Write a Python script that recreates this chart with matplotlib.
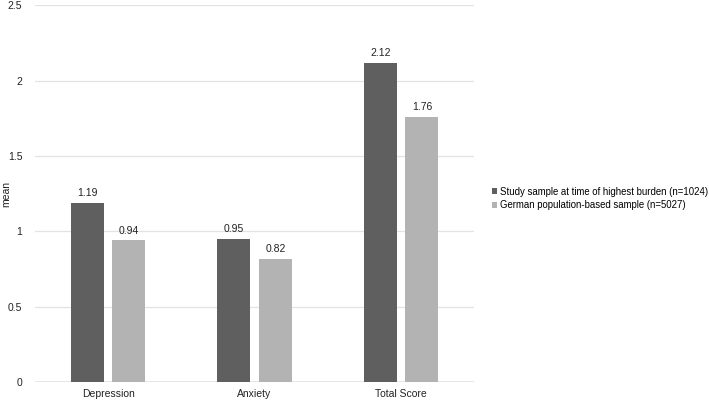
import matplotlib.pyplot as plt
import numpy as np

plt.rcParams["font.family"] = ["Liberation Sans", "DejaVu Sans"]

categories = ["Depression", "Anxiety", "Total Score"]
study = [1.19, 0.95, 2.12]
german = [0.94, 0.82, 1.76]
labels = ["Study sample at time of highest burden (n=1024)",
          "German population-based sample (n=5027)"]

fig = plt.figure(figsize=(7.09, 4.01), dpi=100)
ax = fig.add_axes([0.049, 0.047, 0.62, 0.94])

x = np.arange(len(categories))
w = 0.225
b1 = ax.bar(x - 0.142, study, w, color="#5f5f5f", label=labels[0], zorder=3)
b2 = ax.bar(x + 0.142, german, w, color="#b3b3b3", label=labels[1], zorder=3)

for bars, vals in ((b1, study), (b2, german)):
    for r, v in zip(bars, vals):
        ax.text(r.get_x() + r.get_width() / 2, v + 0.03, f"{v:.2f}",
                ha="center", va="bottom", fontsize=7.5, color="#222222")

ax.set_xlim(-0.5, 2.5)
ax.set_ylim(0, 2.5)
ax.set_yticks([0, 0.5, 1, 1.5, 2, 2.5])
ax.set_yticklabels(["0", "0.5", "1", "1.5", "2", "2.5"])
ax.set_xticks(x)
ax.set_xticklabels(categories)
ax.tick_params(axis="both", length=0, labelsize=7.5, colors="#222222")
ax.tick_params(axis="y", pad=9)
ax.tick_params(axis="x", pad=5)
ax.grid(axis="y", color="#e3e3e3", linewidth=0.9, zorder=0)
for s in ax.spines.values():
    s.set_visible(False)
ax.axhline(0, color="#e3e3e3", linewidth=1.2, zorder=1)
ax.set_ylabel("mean", fontsize=7.5, color="#222222")
ax.yaxis.set_label_coords(-0.054, 0.5)

fig.legend(handles=[b1, b2], loc="center left", bbox_to_anchor=(0.688, 0.505),
           frameon=False, fontsize=6.9, handlelength=0.6, handleheight=0.6,
           handletextpad=0.25, labelspacing=0.35, borderaxespad=0)

fig.savefig("out.png", dpi=100)
